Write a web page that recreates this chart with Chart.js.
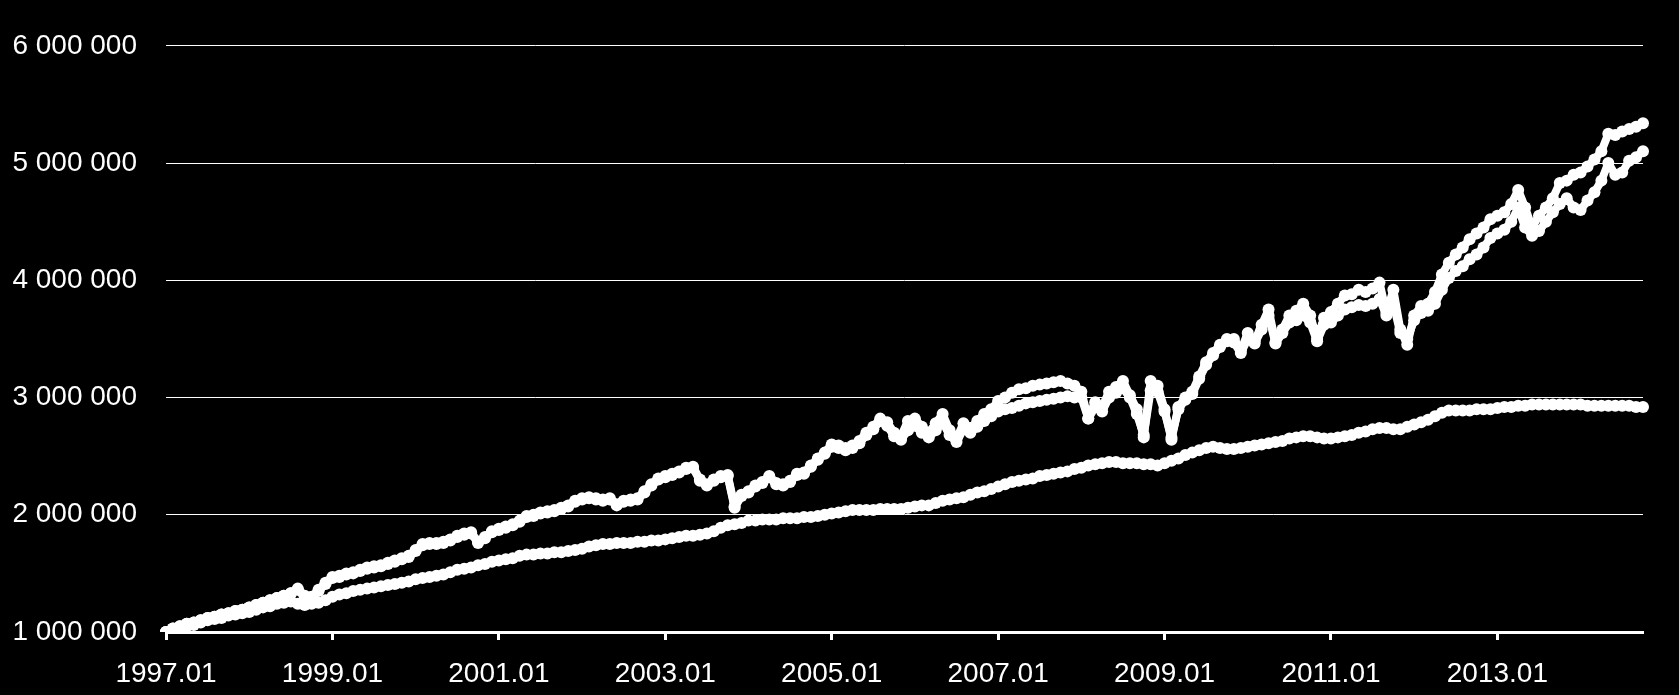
<!DOCTYPE html>
<html>
<head>
<meta charset="utf-8">
<script src="https://cdn.jsdelivr.net/npm/chart.js@4.4.0/dist/chart.umd.min.js"></script>
<style>
  html, body { margin: 0; padding: 0; background: #000; }
  #wrap { width: 1679px; height: 695px; }
</style>
</head>
<body>
<div id="wrap"><canvas id="chart" width="1679" height="695"></canvas></div>
<script>
// month labels 1997.01 .. 2014.10
const months = [];
for (let y = 1997; y <= 2014; y++) {
  for (let m = 1; m <= 12; m++) {
    if (y === 2014 && m > 10) break;
    months.push(y + '.' + (m < 10 ? '0' + m : m));
  }
}

// values in millions, one per month
const seriesA = [
  1.00, 1.03, 1.05, 1.07, 1.08, 1.10, 1.12, 1.13, 1.15, 1.16, 1.18, 1.19,
  1.21, 1.23, 1.25, 1.27, 1.29, 1.31, 1.33, 1.37, 1.31, 1.30, 1.36, 1.42,
  1.47, 1.48, 1.50, 1.51, 1.53, 1.55, 1.56, 1.57, 1.59, 1.61, 1.63, 1.65,
  1.70, 1.75, 1.76, 1.76, 1.77, 1.79, 1.82, 1.84, 1.85, 1.77, 1.81, 1.86,
  1.88, 1.90, 1.92, 1.95, 1.99, 2.00, 2.02, 2.03, 2.04, 2.06, 2.08, 2.12,
  2.14, 2.15, 2.14, 2.13, 2.14, 2.09, 2.12, 2.13, 2.14, 2.20, 2.26, 2.31,
  2.33, 2.35, 2.37, 2.40, 2.41, 2.30, 2.26, 2.30, 2.33, 2.34, 2.07, 2.17,
  2.20, 2.25, 2.28, 2.33, 2.27, 2.26, 2.29, 2.35, 2.36, 2.42, 2.48, 2.53,
  2.60, 2.59, 2.57, 2.59, 2.63, 2.70, 2.75, 2.82, 2.79, 2.70, 2.67, 2.80,
  2.82, 2.75, 2.70, 2.78, 2.86, 2.72, 2.65, 2.78, 2.74, 2.80, 2.86, 2.90,
  2.97, 3.00, 3.04, 3.07, 3.08, 3.10, 3.11, 3.12, 3.13, 3.14, 3.12, 3.10,
  3.05, 2.82, 2.96, 2.92, 3.05, 3.09, 3.14, 3.02, 2.90, 2.66, 3.14, 3.10,
  2.90, 2.64, 2.92, 3.00, 3.05, 3.18, 3.30, 3.38, 3.45, 3.50, 3.50, 3.40,
  3.55, 3.48, 3.62, 3.75, 3.47, 3.58, 3.70, 3.74, 3.80, 3.70, 3.50, 3.68,
  3.73, 3.80, 3.87, 3.88, 3.92, 3.90, 3.93, 3.98, 3.72, 3.92, 3.58, 3.45,
  3.70, 3.78, 3.80, 3.90, 4.05, 4.15, 4.22, 4.28, 4.35, 4.40, 4.45, 4.52,
  4.55, 4.58, 4.65, 4.77, 4.62, 4.45, 4.55, 4.62, 4.70, 4.83, 4.85, 4.90,
  4.92, 4.97, 5.03, 5.10, 5.25, 5.24, 5.27, 5.29, 5.31, 5.34
];

const seriesB = [
  1.00, 1.03, 1.05, 1.07, 1.08, 1.10, 1.12, 1.13, 1.15, 1.16, 1.18, 1.19,
  1.21, 1.23, 1.25, 1.27, 1.29, 1.31, 1.33, 1.36, 1.30, 1.29, 1.35, 1.41,
  1.46, 1.47, 1.49, 1.50, 1.52, 1.54, 1.55, 1.56, 1.58, 1.60, 1.62, 1.64,
  1.69, 1.74, 1.75, 1.75, 1.76, 1.78, 1.81, 1.83, 1.84, 1.76, 1.80, 1.85,
  1.87, 1.89, 1.91, 1.94, 1.98, 1.99, 2.01, 2.02, 2.03, 2.05, 2.07, 2.11,
  2.13, 2.14, 2.13, 2.12, 2.13, 2.08, 2.11, 2.12, 2.13, 2.19, 2.25, 2.30,
  2.32, 2.34, 2.36, 2.39, 2.40, 2.29, 2.25, 2.29, 2.32, 2.33, 2.06, 2.16,
  2.19, 2.24, 2.27, 2.32, 2.26, 2.25, 2.28, 2.34, 2.35, 2.41, 2.47, 2.52,
  2.58, 2.57, 2.55, 2.57, 2.61, 2.68, 2.73, 2.80, 2.76, 2.67, 2.64, 2.72,
  2.76, 2.70, 2.66, 2.72, 2.79, 2.68, 2.62, 2.73, 2.70, 2.75, 2.80, 2.84,
  2.88, 2.90, 2.91, 2.93, 2.95, 2.96, 2.97, 2.98, 2.99, 3.00, 3.01, 3.00,
  3.00, 2.82, 2.92, 2.88, 3.00, 3.04, 3.08, 3.00, 2.86, 2.68, 3.06, 3.05,
  2.88, 2.66, 2.90, 2.98, 3.03, 3.16, 3.28, 3.36, 3.43, 3.48, 3.47, 3.38,
  3.50, 3.46, 3.58, 3.70, 3.46, 3.55, 3.64, 3.66, 3.70, 3.64, 3.48, 3.62,
  3.64, 3.70, 3.75, 3.77, 3.79, 3.78, 3.80, 3.84, 3.70, 3.80, 3.55, 3.50,
  3.66, 3.72, 3.74, 3.80, 3.92, 4.02, 4.08, 4.12, 4.18, 4.22, 4.28, 4.36,
  4.40, 4.43, 4.50, 4.62, 4.45, 4.38, 4.42, 4.50, 4.58, 4.65, 4.70, 4.62,
  4.60, 4.68, 4.75, 4.85, 5.00, 4.90, 4.92, 5.02, 5.05, 5.10
];

const seriesC = [
  1.00, 1.02, 1.04, 1.05, 1.06, 1.08, 1.10, 1.11, 1.12, 1.14, 1.15, 1.16,
  1.17, 1.19, 1.21, 1.22, 1.24, 1.25, 1.26, 1.24, 1.23, 1.24, 1.25, 1.27,
  1.30, 1.32, 1.33, 1.35, 1.36, 1.37, 1.38, 1.39, 1.40, 1.41, 1.42, 1.43,
  1.45, 1.46, 1.47, 1.48, 1.49, 1.51, 1.53, 1.54, 1.55, 1.57, 1.58, 1.60,
  1.61, 1.62, 1.63, 1.65, 1.66, 1.66, 1.67, 1.67, 1.68, 1.68, 1.69, 1.70,
  1.71, 1.73, 1.74, 1.75, 1.75, 1.76, 1.76, 1.76, 1.77, 1.77, 1.78, 1.78,
  1.79, 1.80, 1.81, 1.82, 1.82, 1.83, 1.84, 1.86, 1.89, 1.91, 1.92, 1.93,
  1.95, 1.95, 1.96, 1.96, 1.96, 1.97, 1.97, 1.97, 1.98, 1.98, 1.99, 2.00,
  2.01, 2.02, 2.03, 2.04, 2.04, 2.04, 2.04, 2.05, 2.05, 2.05, 2.05, 2.06,
  2.07, 2.08, 2.08, 2.10, 2.12, 2.13, 2.14, 2.15, 2.17, 2.19, 2.20, 2.22,
  2.24, 2.26, 2.28, 2.29, 2.30, 2.31, 2.33, 2.34, 2.35, 2.36, 2.37, 2.39,
  2.40, 2.42, 2.43, 2.44, 2.45, 2.45, 2.44, 2.44, 2.44, 2.43, 2.43, 2.42,
  2.44, 2.46, 2.48, 2.51, 2.53, 2.55, 2.57, 2.58, 2.57, 2.56, 2.56, 2.57,
  2.58, 2.59, 2.60, 2.61, 2.62, 2.63, 2.65, 2.66, 2.67, 2.67, 2.66, 2.65,
  2.65, 2.66, 2.67, 2.68, 2.70, 2.71, 2.73, 2.74, 2.74, 2.73, 2.73, 2.75,
  2.77, 2.79, 2.81, 2.84, 2.87, 2.89, 2.89, 2.89, 2.89, 2.90, 2.90, 2.90,
  2.91, 2.92, 2.92, 2.93, 2.93, 2.94, 2.94, 2.94, 2.94, 2.94, 2.94, 2.94,
  2.94, 2.93, 2.93, 2.93, 2.93, 2.93, 2.93, 2.93, 2.92, 2.92
];

const yTicks = [1000000, 2000000, 3000000, 4000000, 5000000, 6000000];

const toValue = arr => arr.map(v => Math.round(v * 1000000));

function lineSet(label, arr) {
  return {
    label: label,
    data: toValue(arr),
    borderColor: '#fff',
    backgroundColor: '#fff',
    borderWidth: 8,
    borderJoinStyle: 'round',
    borderCapStyle: 'round',
    pointRadius: 6,
    pointBorderWidth: 0,
    pointBackgroundColor: '#fff',
    pointHoverRadius: 0,
    tension: 0
  };
}

const font = { family: 'Liberation Sans, Arial, sans-serif', size: 28 };

new Chart(document.getElementById('chart').getContext('2d'), {
  type: 'line',
  data: {
    labels: months,
    datasets: [lineSet('C', seriesC), lineSet('B', seriesB), lineSet('A', seriesA)]
  },
  options: {
    responsive: false,
    animation: false,
    devicePixelRatio: 1,
    layout: { padding: { left: 0, right: 36, top: 42, bottom: 0 } },
    plugins: { legend: { display: false }, tooltip: { enabled: false } },
    scales: {
      x: {
        type: 'category',
        offset: false,
        border: { display: true, color: '#fff', width: 3 },
        grid: {
          drawOnChartArea: false,
          drawTicks: true,
          tickLength: 8,
          tickWidth: 3,
          tickColor: '#fff'
        },
        ticks: {
          autoSkip: false,
          maxRotation: 0,
          color: '#fff',
          font: font,
          padding: 17,
          callback: (v, i) => (i % 24 === 0 ? months[i] : null)
        },
        afterFit: s => { s.height = 63; }
      },
      y: {
        min: 1000000,
        max: 6000000,
        border: { display: false },
        grid: { color: '#fff', lineWidth: 1, drawTicks: false },
        afterBuildTicks: s => { s.ticks = yTicks.map(v => ({ value: v })); },
        ticks: {
          color: '#fff',
          font: font,
          padding: 29,
          callback: v => String(v).replace(/\B(?=(\d{3})+(?!\d))/g, ' ')
        },
        afterFit: s => { s.width = 166; }
      }
    }
  }
});
</script>
</body>
</html>
